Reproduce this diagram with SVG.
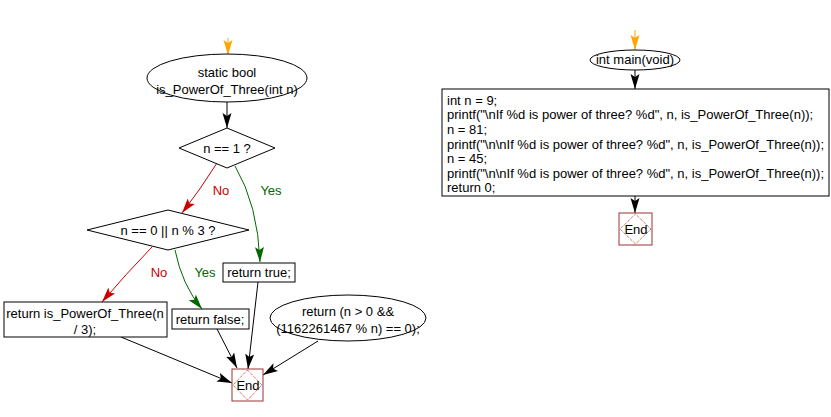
<svg xmlns="http://www.w3.org/2000/svg" width="831" height="417" viewBox="0 0 831 417">
<defs>
<style>
text{font-family:"Liberation Sans",Arial,sans-serif;font-size:13px;fill:#000}
.c{text-anchor:middle}
.shape{fill:#fff;stroke:#000;stroke-width:1}
.edge{fill:none;stroke:#000;stroke-width:1}
.red{stroke:#cc0000}
.green{stroke:#006600}
.orange{stroke:#ffa500}
.lr{fill:#cc0000}
.lg{fill:#006600}
.endbox{fill:#fff;stroke:#993333;stroke-width:1}
.enddia{fill:none;stroke:#cc3333;stroke-width:1;stroke-dasharray:1,1}
</style>
<marker id="ab" markerUnits="userSpaceOnUse" markerWidth="17" markerHeight="10" refX="15" refY="5" orient="auto"><path d="M0,0.5 L15,5 L0,9.5 L3,5 z" fill="#000"/></marker>
<marker id="ar" markerUnits="userSpaceOnUse" markerWidth="17" markerHeight="10" refX="15" refY="5" orient="auto"><path d="M0,0.5 L15,5 L0,9.5 L3,5 z" fill="#cc0000"/></marker>
<marker id="ag" markerUnits="userSpaceOnUse" markerWidth="17" markerHeight="10" refX="15" refY="5" orient="auto"><path d="M0,0.5 L15,5 L0,9.5 L3,5 z" fill="#006600"/></marker>
<marker id="ao" markerUnits="userSpaceOnUse" markerWidth="17" markerHeight="10" refX="15" refY="5" orient="auto"><path d="M0,0.5 L15,5 L0,9.5 L3,5 z" fill="#ffa500"/></marker>
</defs>

<g id="connectors">
<line class="edge orange" x1="228" y1="38" x2="228" y2="55" marker-end="url(#ao)"/>
<line class="edge" x1="227" y1="102" x2="227" y2="128" marker-end="url(#ab)"/>
<path class="edge red" d="M217,163 Q200,190 182,213" marker-end="url(#ar)"/>
<path class="edge green" d="M235,166 Q258,205 260,262" marker-end="url(#ag)"/>
<path class="edge red" d="M152,247 Q125,275 102,302" marker-end="url(#ar)"/>
<path class="edge green" d="M175,250 Q182,285 202,309" marker-end="url(#ag)"/>
<line class="edge" x1="121" y1="337" x2="232" y2="383" marker-end="url(#ab)"/>
<line class="edge" x1="217" y1="329" x2="237" y2="368" marker-end="url(#ab)"/>
<line class="edge" x1="258" y1="282" x2="248" y2="369" marker-end="url(#ab)"/>
<line class="edge" x1="318" y1="341" x2="263" y2="375" marker-end="url(#ab)"/>
<line class="edge orange" x1="635" y1="30" x2="635" y2="50" marker-end="url(#ao)"/>
<line class="edge" x1="635" y1="69" x2="635" y2="89" marker-end="url(#ab)"/>
<line class="edge" x1="635" y1="196" x2="635" y2="213" marker-end="url(#ab)"/>
<text class="c lr" x="221" y="195">No</text>
<text class="c lg" x="271" y="195">Yes</text>
<text class="c lr" x="159" y="277">No</text>
<text class="c lg" x="205" y="277">Yes</text>
</g>

<g id="start_fn">
<ellipse class="shape" cx="227" cy="78" rx="80" ry="24"/>
<text class="c" x="227" y="77">static bool</text>
<text class="c" x="227" y="94">is_PowerOf_Three(int n)</text>
</g>

<g id="dec1">
<polygon class="shape" points="227,128 275,148 227,168 179,148"/>
<text class="c" x="227" y="153">n == 1 ?</text>
</g>

<g id="dec2">
<polygon class="shape" points="168,210 249,230 168,250 87,230"/>
<text class="c" x="168" y="235">n == 0 || n % 3 ?</text>
</g>

<g id="ret_true">
<rect class="shape" x="223" y="263" width="72" height="19"/>
<text class="c" x="259" y="277">return true;</text>
</g>

<g id="ret_false">
<rect class="shape" x="172" y="309" width="77" height="20"/>
<text class="c" x="210" y="324">return false;</text>
</g>

<g id="ret_rec">
<rect class="shape" x="4" y="302" width="163" height="35"/>
<text class="c" x="85" y="318">return is_PowerOf_Three(n</text>
<text class="c" x="85" y="334">/ 3);</text>
</g>

<g id="ret_expr">
<ellipse class="shape" cx="348" cy="318" rx="78" ry="23"/>
<text class="c" x="348" y="316">return (n &gt; 0 &amp;&amp;</text>
<text class="c" x="348" y="333">(1162261467 % n) == 0);</text>
</g>

<g id="end1">
<rect class="endbox" x="232" y="369" width="31" height="32"/>
<polygon class="enddia" points="247.5,370 262,385 247.5,400 233,385"/>
<text class="c" x="248" y="390">End</text>
</g>

<g id="start_main">
<ellipse class="shape" cx="635" cy="60" rx="45" ry="10"/>
<text class="c" x="635" y="64">int main(void)</text>
</g>

<g id="main_body">
<rect class="shape" x="442" y="89" width="387" height="107"/>
<text x="447" y="105">int n = 9;</text>
<text x="447" y="119">printf("\nIf %d is power of three? %d", n, is_PowerOf_Three(n));</text>
<text x="447" y="134">n = 81;</text>
<text x="447" y="149">printf("\n\nIf %d is power of three? %d", n, is_PowerOf_Three(n));</text>
<text x="447" y="163">n = 45;</text>
<text x="447" y="178">printf("\n\nIf %d is power of three? %d", n, is_PowerOf_Three(n));</text>
<text x="447" y="192">return 0;</text>
</g>

<g id="end2">
<rect class="endbox" x="619" y="213" width="33" height="32"/>
<polygon class="enddia" points="635.5,214 651,229 635.5,244 620,229"/>
<text class="c" x="636" y="234">End</text>
</g>
</svg>
